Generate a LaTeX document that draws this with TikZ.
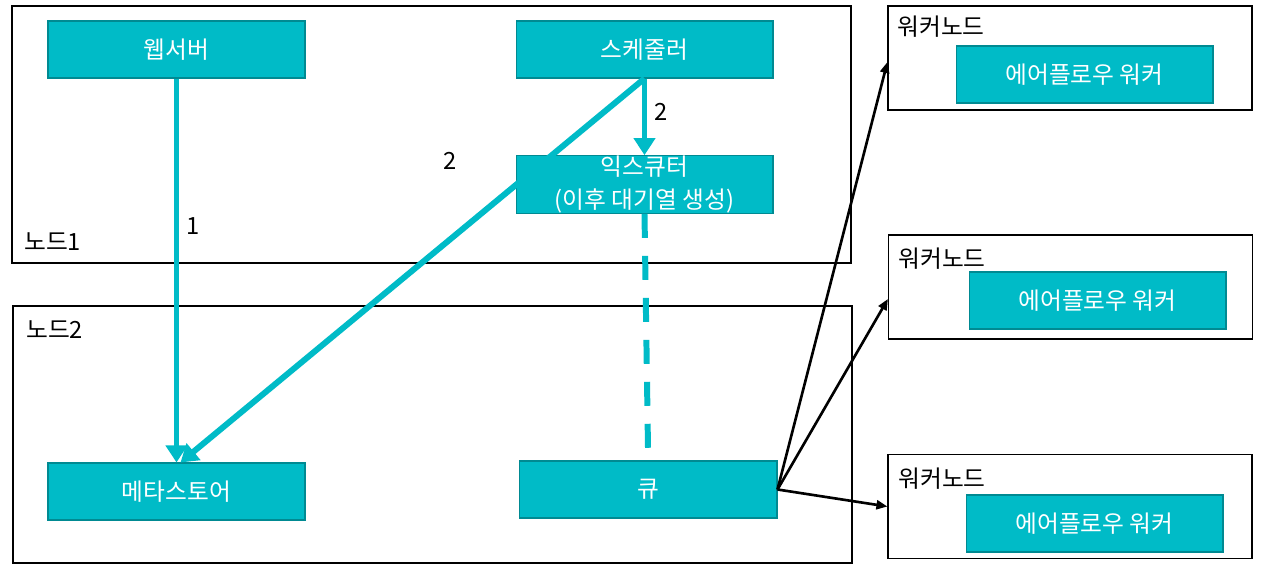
\documentclass[tikz,border=0pt]{standalone}
\usepackage{fontspec}
\setmainfont{Noto Sans CJK KR}
\usetikzlibrary{arrows.meta}
\definecolor{tealfill}{RGB}{0,187,199}
\definecolor{tealline}{RGB}{0,138,146}
\begin{document}
\begin{tikzpicture}[
  x=0.02cm, y=-0.02cm,
  every node/.style={font=\fontsize{13.5}{16}\selectfont},
  hostbox/.style={rectangle, draw=black, line width=0.7pt, minimum width=16.78cm, minimum height=5.14cm, inner sep=0pt},
  workerbox/.style={rectangle, draw=black, line width=0.7pt, minimum width=7.28cm, minimum height=2.08cm, inner sep=0pt},
  comp/.style={rectangle, draw=tealline, line width=0.6pt, fill=tealfill, text=white, minimum width=5.14cm, minimum height=1.14cm, inner sep=0pt},
  flow/.style={draw=tealfill, line width=3.4pt, -{Triangle[length=0.34cm,width=0.42cm]}},
  link/.style={draw=tealfill, line width=3.4pt, dash pattern=on 0.48cm off 0.36cm},
  fanout/.style={draw=black, line width=1.5pt, -{Triangle[length=0.22cm,width=0.18cm]}}
]
\useasboundingbox (0,0) rectangle (1262,573);
% hosts
\node[hostbox] (node1) at (431.5,134.5) {};
\node[hostbox] (node2) at (432.5,434.5) {};
\node[anchor=west, inner sep=0pt] (node1lbl) at (24,242) {노드1};
\node[anchor=west, inner sep=0pt] (node2lbl) at (26,330) {노드2};
% components
\node[comp] (web) at (176.5,49.5) {웹서버};
\node[comp] (sched) at (644.5,49.5) {스케줄러};
\node[comp, align=center, font=\fontsize{13.5}{19}\selectfont] (exec) at (644.5,184.5) {익스큐터\\(이후 대기열 생성)};
\node[comp] (meta) at (176.5,491.5) {메타스토어};
\node[comp, minimum width=5.16cm] (queue) at (648,489.5) {큐};
% worker nodes
\node[workerbox] (wn1) at (1070,58) {};
\node[workerbox] (wn2) at (1070.5,287) {};
\node[workerbox] (wn3) at (1070,506.5) {};
\node[anchor=west, inner sep=0pt] (wn1lbl) at (897,27) {워커노드};
\node[anchor=west, inner sep=0pt] (wn2lbl) at (898,259) {워커노드};
\node[anchor=west, inner sep=0pt] (wn3lbl) at (898,479) {워커노드};
\node[comp] (wk1) at (1084.5,74.5) {에어플로우 워커};
\node[comp] (wk2) at (1097.5,300.5) {에어플로우 워커};
\node[comp] (wk3) at (1094.5,523.5) {에어플로우 워커};
% step numbers
\node (num1) at (193,226) {1};
\node (num2a) at (661,112) {2};
\node (num2b) at (450,161) {2};
% connectors
\coordinate (qtop) at (648,448);
\draw[flow] (web.south) -- (meta.north);
\draw[flow] (sched.south) -- ([xshift=0.08cm]meta.north);
\draw[flow] (sched.south) -- (exec.north);
\draw[link] (exec.south) -- (qtop);
\draw[fanout] (queue.east) -- ([yshift=-0.08cm]wn1.west);
\draw[fanout] (queue.east) -- ([yshift=-0.24cm]wn2.west);
\draw[fanout] (queue.east) -- (wn3.west);
\end{tikzpicture}
\end{document}
